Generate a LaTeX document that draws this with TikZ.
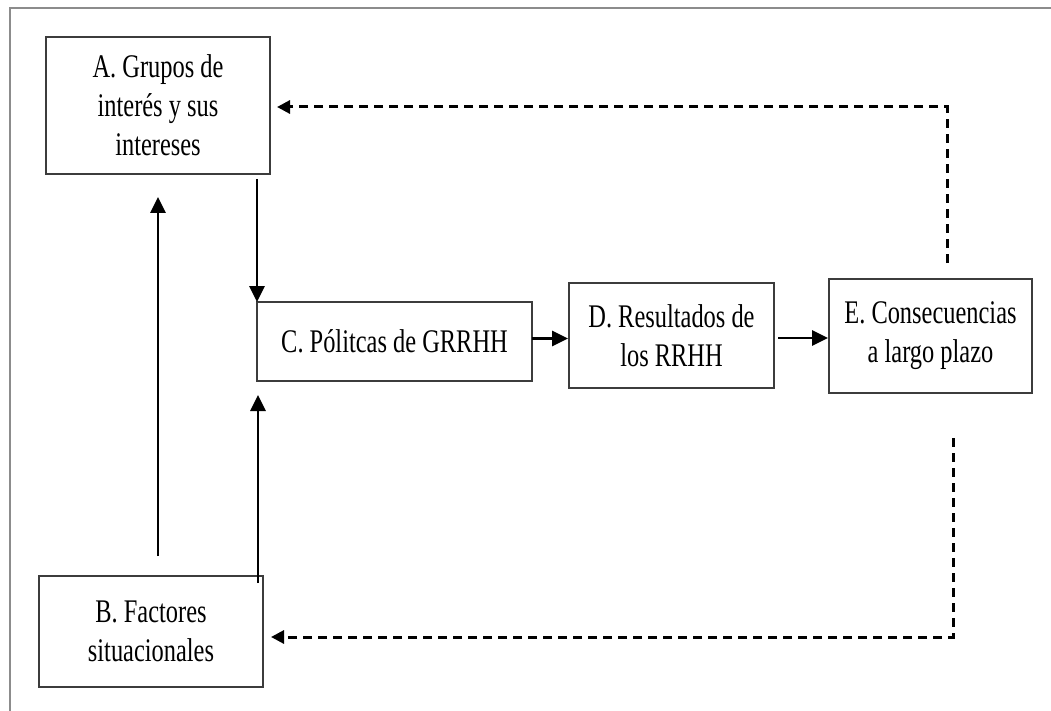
\documentclass[tikz,border=0pt]{standalone}
\usepackage{fontspec}
\setmainfont{Liberation Serif}[FakeStretch=0.74]
\usetikzlibrary{arrows.meta,calc}

\definecolor{framegray}{HTML}{8C8C8C}
\definecolor{boxgray}{HTML}{3C3C3C}

\tikzset{
  stagebox/.style={draw=boxgray, line width=2pt, inner sep=0pt, outer sep=0pt,
    align=center, font=\fontsize{33}{39}\selectfont},
  arr/.style={draw=black, line width=2.8pt, -{Triangle[length=16pt,width=15pt]}},
  darr/.style={draw=black, line width=3pt, dash pattern=on 9pt off 6pt,
    -{Triangle[length=13pt,width=13pt]}},
}

\begin{document}
\begin{tikzpicture}[x=1pt,y=-1pt]
\useasboundingbox (0,0) rectangle (1051,711);

% partial outer frame
\coordinate (fbl) at (10,711);
\coordinate (ftl) at (10,8);
\coordinate (ftr) at (1051,8);
\draw[framegray, line width=1.8pt] (fbl) -- (ftl) -- (ftr);

% stages
\node[stagebox, minimum width=224pt, minimum height=137pt] (A) at (158,105.5)
  {A. Grupos de\\interés y sus\\intereses};
\node[stagebox, minimum width=224pt, minimum height=111pt] (B) at (151,631.5)
  {B. Factores\\situacionales};
\node[stagebox, minimum width=275pt, minimum height=79pt] (C) at (394.5,341.5)
  {C. Pólitcas de GRRHH};
\node[stagebox, minimum width=205pt, minimum height=105pt] (D) at (671.5,335.5)
  {D. Resultados de\\los RRHH};
\node[stagebox, minimum width=203pt, minimum height=114pt] (E) at (930.5,336)
  {E. Consecuencias\\a largo plazo};

% solid links
\draw[arr] ($(A.south east)+(-13,5)$) -- (C.north west);
\draw[arr] ($(B.north -| A.south)+(0,-20)$) -- ($(A.south)+(0,23)$);
\draw[arr] ($(B.north -| C.south west)+(1,7)$) -- ($(C.south west)+(1,14)$);
\draw[arr] ($(C.east)+(0,-3)$) -- ($(D.west |- C.east)+(-1,-3)$);
\draw[arr] ($(D.east)+(4,2.5)$) -- ($(E.west |- D.east)+(-1,2.5)$);

% feedback loops
\draw[darr] ($(E.north)+(16.5,-16)$) |- ($(A.east)+(7,1.5)$);
\draw[darr] ($(E.south)+(22.5,45)$) |- ($(B.east)+(8,5.5)$);
\end{tikzpicture}
\end{document}
